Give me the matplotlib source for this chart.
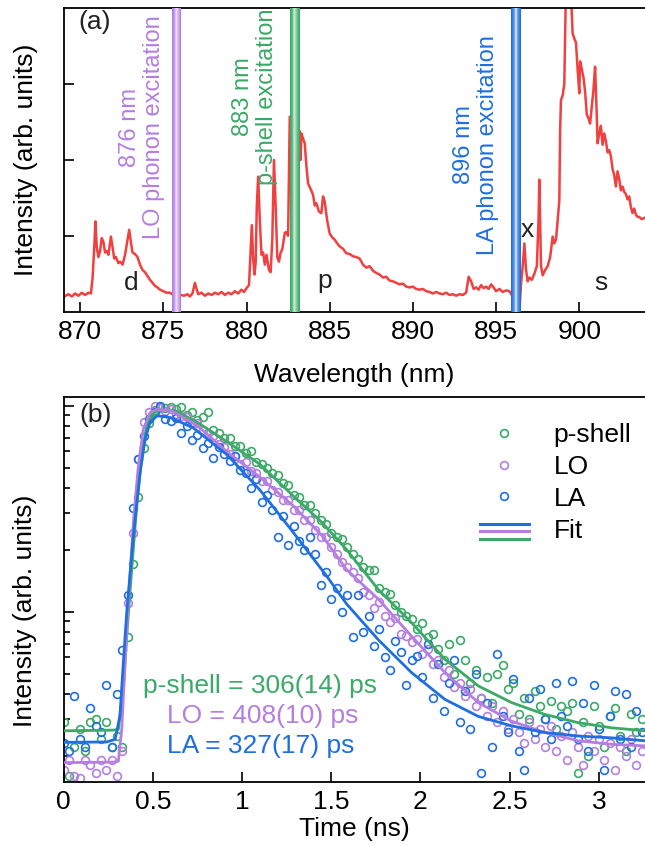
"""
Two-panel figure: PL spectrum with excitation lines (a) and
time-resolved decay traces with fits on a log scale (b)
"""

import matplotlib
matplotlib.use('Agg')
import matplotlib.pyplot as plt
import matplotlib.colors as mcolors
from matplotlib.lines import Line2D
from matplotlib.legend_handler import HandlerBase
import numpy as np

plt.rcParams['font.family'] = ['Liberation Sans', 'DejaVu Sans']

RED = '#f0403f'
GREEN = '#3aaa66'
PURPLE = '#b47fe0'
BLUE = '#1f6fe0'

# ---- panel (a): spectrum ----
wavelength_nm = [
    869.05, 869.3, 869.5, 869.7, 869.9, 870.1, 870.3, 870.5, 870.65, 870.75,
    870.85, 870.92, 871.0, 871.1, 871.2, 871.3, 871.4, 871.5, 871.6, 871.7,
    871.85, 871.95, 872.05, 872.15, 872.3, 872.4, 872.55, 872.7, 872.85, 872.95,
    873.05, 873.15, 873.3, 873.45, 873.6, 873.75, 873.9, 874.05, 874.2, 874.35,
    874.5, 874.65, 874.8, 875.0, 875.2, 875.4, 875.6, 875.8, 876.05, 876.25,
    876.45, 876.6, 876.75, 876.9, 877.0, 877.1, 877.3, 877.5, 877.7, 877.9,
    878.1, 878.3, 878.5, 878.7, 878.9, 879.1, 879.3, 879.5, 879.7, 879.85,
    880.0, 880.15, 880.25, 880.32, 880.4, 880.48, 880.55, 880.62, 880.7, 880.8,
    880.9, 881.0, 881.1, 881.2, 881.35, 881.45, 881.55, 881.65, 881.75, 881.85,
    881.95, 882.05, 882.15, 882.3, 882.4, 882.5, 882.6, 882.8, 883.0, 883.2,
    883.25, 883.3, 883.4, 883.5, 883.6, 883.7, 883.85, 884.0, 884.1, 884.2,
    884.35, 884.5, 884.6, 884.7, 884.85, 885.0, 885.15, 885.3, 885.45, 885.6,
    885.8, 886.0, 886.2, 886.4, 886.6, 886.8, 887.0, 887.2, 887.4, 887.6,
    887.8, 888.0, 888.2, 888.4, 888.6, 888.8, 889.0, 889.2, 889.4, 889.6,
    889.8, 890.0, 890.2, 890.4, 890.6, 890.8, 891.0, 891.2, 891.4, 891.6,
    891.8, 892.0, 892.2, 892.4, 892.6, 892.8, 893.0, 893.2, 893.35, 893.5,
    893.65, 893.8, 893.95, 894.1, 894.25, 894.4, 894.55, 894.7, 894.85, 895.0,
    895.2, 895.4, 895.6, 895.8, 896.0, 896.2, 896.4, 896.5, 896.6, 896.7,
    896.8, 896.9, 897.0, 897.15, 897.3, 897.45, 897.55, 897.6, 897.7, 897.8,
    897.95, 898.1, 898.25, 898.4, 898.5, 898.6, 898.7, 898.8, 898.85, 898.9,
    899.0, 899.1, 899.2, 899.35, 899.5, 899.6, 899.7, 899.8, 899.9, 900.0,
    900.05, 900.15, 900.25, 900.35, 900.45, 900.55, 900.65, 900.75, 900.85, 900.95,
    901.05, 901.1, 901.2, 901.3, 901.4, 901.5, 901.6, 901.7, 901.8, 901.9,
    902.0, 902.1, 902.2, 902.3, 902.4, 902.5, 902.6, 902.7, 902.8, 902.9,
    903.0, 903.1, 903.2, 903.3, 903.4, 903.5, 903.6, 903.75, 903.95,
]
pl_intensity = [
    0.20, 0.23, 0.20, 0.24, 0.21, 0.25, 0.22, 0.25, 0.24, 0.45,
    0.85, 1.19, 0.85, 0.72, 0.80, 0.97, 0.92, 0.78, 0.80, 0.75,
    0.99, 0.85, 0.70, 0.72, 0.64, 0.66, 0.62, 0.75, 0.95, 1.08,
    0.92, 0.78, 0.76, 0.72, 0.62, 0.55, 0.52, 0.47, 0.42, 0.38,
    0.34, 0.32, 0.29, 0.27, 0.25, 0.25, 0.22, 0.23, 0.22, 0.21,
    0.23, 0.20, 0.24, 0.38, 0.30, 0.23, 0.25, 0.21, 0.24, 0.22,
    0.25, 0.23, 0.26, 0.22, 0.25, 0.23, 0.27, 0.24, 0.29, 0.26,
    0.31, 0.35, 0.80, 1.14, 0.70, 0.49, 0.65, 1.40, 1.78, 1.20,
    0.75, 0.78, 0.62, 0.75, 0.55, 0.52, 0.95, 2.00, 1.40, 0.72,
    0.66, 0.78, 0.82, 1.04, 1.05, 1.00, 2.57, 2.45, 2.40, 2.38,
    2.00, 2.35, 2.28, 2.22, 1.92, 1.69, 1.62, 1.54, 1.40, 1.43,
    1.32, 1.30, 1.52, 1.45, 1.20, 1.03, 0.98, 0.95, 0.90, 0.86,
    0.83, 0.77, 0.76, 0.73, 0.72, 0.70, 0.62, 0.58, 0.60, 0.54,
    0.51, 0.49, 0.45, 0.46, 0.41, 0.40, 0.38, 0.36, 0.37, 0.33,
    0.32, 0.33, 0.30, 0.29, 0.30, 0.27, 0.26, 0.24, 0.26, 0.24,
    0.23, 0.25, 0.22, 0.23, 0.21, 0.23, 0.22, 0.25, 0.46, 0.40,
    0.30, 0.32, 0.29, 0.35, 0.31, 0.33, 0.30, 0.36, 0.32, 0.27,
    0.30, 0.26, 0.28, 0.27, 0.20, 0.08, 0.00, 0.37, 0.60, 0.90,
    0.55, 0.40, 0.45, 0.42, 0.50, 0.60, 1.20, 1.74, 0.60, 0.48,
    0.55, 0.60, 0.72, 0.99, 0.90, 0.95, 1.20, 1.47, 2.40, 2.79,
    2.85, 3.00, 4.30, 4.50, 4.20, 3.67, 3.60, 3.55, 3.20, 2.88,
    3.30, 3.20, 3.09, 2.90, 2.60, 2.55, 2.48, 2.70, 2.92, 3.23,
    2.60, 2.22, 2.35, 2.45, 2.20, 2.35, 2.25, 2.10, 2.13, 2.05,
    1.88, 1.80, 1.65, 1.85, 1.75, 1.60, 1.65, 1.58, 1.55, 1.48,
    1.52, 1.38, 1.30, 1.36, 1.28, 1.25, 1.25, 1.22, 1.24,
]

# excitation wavelengths (bar centres) and their labels
exc_centers = [875.8, 882.9, 896.2]
exc_colors = [PURPLE, GREEN, BLUE]
exc_labels = ['876 nm\nLO phonon excitation',
              '883 nm\np-shell excitation',
              '896 nm\nLA phonon excitation']

# ---- panel (b): decay traces, normalised ----
time_ns = [
    0.00, 0.03, 0.06, 0.09, 0.12, 0.15, 0.18, 0.21, 0.24, 0.27,
    0.30, 0.33, 0.36, 0.39, 0.42, 0.45, 0.48, 0.51, 0.54, 0.57,
    0.60, 0.63, 0.66, 0.69, 0.72, 0.75, 0.78, 0.81, 0.84, 0.87,
    0.90, 0.93, 0.96, 0.99, 1.02, 1.05, 1.08, 1.11, 1.14, 1.17,
    1.20, 1.23, 1.26, 1.29, 1.32, 1.35, 1.38, 1.41, 1.44, 1.47,
    1.50, 1.53, 1.56, 1.59, 1.62, 1.65, 1.68, 1.71, 1.74, 1.77,
    1.80, 1.83, 1.86, 1.89, 1.92, 1.95, 1.98, 2.01, 2.04, 2.07,
    2.10, 2.13, 2.16, 2.19, 2.22, 2.25, 2.28, 2.31, 2.34, 2.37,
    2.40, 2.43, 2.46, 2.49, 2.52, 2.55, 2.58, 2.61, 2.64, 2.67,
    2.70, 2.73, 2.76, 2.79, 2.82, 2.85, 2.88, 2.91, 2.94, 2.97,
    3.00, 3.03, 3.06, 3.09, 3.12, 3.15, 3.18, 3.21, 3.24,
]
pshell_counts = [
    0.029, 0.016, 0.022, 0.027, 0.021, 0.029, 0.030, 0.024, 0.029, 0.022,
    0.025, 0.022, 0.075, 0.17, 0.36, 0.62, 0.82, 0.95, 0.99, 0.97,
    0.99, 0.96, 0.99, 0.90, 0.93, 0.85, 0.88, 0.93, 0.76, 0.74,
    0.70, 0.70, 0.64, 0.64, 0.59, 0.60, 0.53, 0.52, 0.50, 0.47,
    0.46, 0.42, 0.41, 0.37, 0.36, 0.33, 0.33, 0.30, 0.28, 0.265,
    0.24, 0.23, 0.225, 0.205, 0.19, 0.18, 0.165, 0.16, 0.16, 0.13,
    0.125, 0.122, 0.108, 0.10, 0.095, 0.092, 0.082, 0.088, 0.075, 0.078,
    0.066, 0.058, 0.070, 0.050, 0.073, 0.058, 0.045, 0.052, 0.038, 0.048,
    0.036, 0.050, 0.055, 0.042, 0.045, 0.032, 0.038, 0.030, 0.041, 0.035,
    0.030, 0.037, 0.027, 0.035, 0.033, 0.036, 0.0165, 0.029, 0.020, 0.035,
    0.028, 0.022, 0.031, 0.034, 0.025, 0.021, 0.032, 0.026, 0.030,
]
lo_counts = [
    0.017, 0.019, 0.016, 0.0155, 0.019, 0.018, 0.0165, 0.019, 0.017, 0.019,
    0.016, 0.021, 0.11, 0.24, 0.55, 0.83, 0.93, 1.00, 0.97, 0.94,
    0.96, 0.91, 0.89, 0.88, 0.83, 0.82, 0.76, 0.74, 0.71, 0.65,
    0.63, 0.58, 0.57, 0.52, 0.53, 0.48, 0.47, 0.43, 0.43, 0.39,
    0.38, 0.35, 0.35, 0.31, 0.31, 0.28, 0.28, 0.25, 0.23, 0.23,
    0.205, 0.19, 0.175, 0.165, 0.155, 0.145, 0.125, 0.12, 0.104, 0.112,
    0.095, 0.089, 0.093, 0.078, 0.076, 0.071, 0.074, 0.062, 0.066, 0.056,
    0.058, 0.048, 0.052, 0.043, 0.045, 0.039, 0.042, 0.035, 0.038, 0.031,
    0.035, 0.029, 0.033, 0.027, 0.030, 0.026, 0.023, 0.029, 0.024, 0.027,
    0.022, 0.028, 0.021, 0.025, 0.019, 0.026, 0.022, 0.018, 0.025, 0.021,
    0.024, 0.019, 0.023, 0.017, 0.022, 0.020, 0.024, 0.018, 0.021,
]
la_counts = [
    0.023, 0.021, 0.039, 0.024, 0.022, 0.034, 0.028, 0.026, 0.044, 0.022,
    0.040, 0.065, 0.12, 0.32, 0.55, 0.71, 0.86, 0.93, 1.00, 0.86,
    0.84, 0.87, 0.74, 0.80, 0.68, 0.72, 0.62, 0.66, 0.56, 0.63,
    0.58, 0.54, 0.57, 0.49, 0.47, 0.40, 0.44, 0.34, 0.37, 0.31,
    0.23, 0.29, 0.21, 0.26, 0.22, 0.20, 0.23, 0.19, 0.135, 0.155,
    0.115, 0.13, 0.10, 0.12, 0.075, 0.12, 0.080, 0.095, 0.068, 0.082,
    0.060, 0.052, 0.072, 0.064, 0.044, 0.058, 0.061, 0.048, 0.070, 0.038,
    0.056, 0.033, 0.045, 0.058, 0.029, 0.041, 0.027, 0.050, 0.0165, 0.036,
    0.022, 0.062, 0.031, 0.026, 0.047, 0.021, 0.017, 0.038, 0.026, 0.042,
    0.030, 0.024, 0.045, 0.031, 0.028, 0.046, 0.024, 0.036, 0.021, 0.044,
    0.027, 0.017, 0.031, 0.041, 0.024, 0.040, 0.022, 0.033, 0.026,
]

# fit curves
fit_t_pshell = [0.0, 0.28, 0.307, 0.335, 0.354, 0.382, 0.41, 0.438, 0.466, 0.503,
                0.55, 0.62, 0.75, 0.914, 1.1, 1.288, 1.45, 1.586, 1.764, 1.95,
                2.137, 2.324, 2.51, 2.697, 2.884, 3.07, 3.26]
fit_pshell = [0.0264, 0.0266, 0.0268, 0.042, 0.0762, 0.161, 0.326, 0.570, 0.797, 0.925,
              0.955, 0.95, 0.83, 0.67, 0.52, 0.364, 0.27, 0.20, 0.128, 0.0885,
              0.0587, 0.0436, 0.0362, 0.0317, 0.0289, 0.0273, 0.0264]
fit_t_lo = [0.0, 0.28, 0.307, 0.326, 0.345, 0.363, 0.391, 0.419, 0.447, 0.484,
            0.522, 0.6, 0.75, 0.914, 1.1, 1.288, 1.45, 1.586, 1.764, 1.95,
            2.137, 2.324, 2.51, 2.697, 2.884, 3.07, 3.26]
fit_lo = [0.0185, 0.0186, 0.0188, 0.0268, 0.0565, 0.111, 0.27, 0.509, 0.768, 0.925,
          0.96, 0.95, 0.80, 0.60, 0.45, 0.326, 0.233, 0.16, 0.115, 0.076,
          0.0506, 0.0362, 0.0294, 0.0259, 0.0236, 0.0227, 0.0223]
fit_t_la = [0.0, 0.242, 0.289, 0.316, 0.335, 0.354, 0.391, 0.429, 0.457, 0.484,
            0.522, 0.541, 0.6, 0.727, 0.914, 1.1, 1.288, 1.474, 1.586, 1.764,
            1.95, 2.137, 2.324, 2.51, 2.697, 2.884, 3.07, 3.26]
fit_la = [0.0232, 0.0233, 0.024, 0.0312, 0.0565, 0.0989, 0.233, 0.473, 0.687, 0.827,
          0.891, 0.89, 0.875, 0.78, 0.58, 0.39, 0.242, 0.149, 0.109, 0.073,
          0.0506, 0.0375, 0.031, 0.0279, 0.0259, 0.0249, 0.0244, 0.0236]


class FitHandle:
    def __init__(self, colors):
        self.colors = colors


class HandlerFit(HandlerBase):
    """Legend handle: three stacked horizontal lines"""
    def create_artists(self, legend, orig_handle, xdescent, ydescent,
                       width, height, fontsize, trans):
        artists = []
        yc = height / 2 - ydescent
        step = 5.4  # points between the three lines
        for k, c in enumerate(orig_handle.colors):
            y = yc + (1 - k) * step - 2.0
            artists.append(Line2D([-xdescent, -xdescent + width], [y, y],
                                  color=c, lw=2.2, transform=trans))
        return artists


def glow_bar(ax, center, width, color):
    """Vertical excitation bar, darker edges and a light core"""
    rgb = np.array(mcolors.to_rgb(color))
    layers = [(1.0, 0.0), (0.8, 0.1), (0.6, 0.22), (0.42, 0.38),
              (0.26, 0.55), (0.12, 0.72)]
    for frac, mix in layers:
        c = rgb * (1 - mix) + mix
        ax.axvspan(center - width * frac / 2, center + width * frac / 2,
                   color=c, lw=0, zorder=3)


fig = plt.figure(figsize=(6.45, 8.46), dpi=100)
ax1 = fig.add_axes([0.0997, 0.6316, 0.9003, 0.3586])
ax2 = fig.add_axes([0.0985, 0.0757, 0.9015, 0.4554])

FS = 19

# ---- (a) ----
ax1.plot(wavelength_nm, pl_intensity, color=RED, lw=1.8, zorder=2)
for xc, col in zip(exc_centers, exc_colors):
    glow_bar(ax1, xc, 0.58, col)
ax1.text(873.7, 2.43, exc_labels[0], color=PURPLE, rotation=90, ha='center',
         va='center', multialignment='center', fontsize=17, linespacing=1.1)
ax1.text(880.5, 2.84, exc_labels[1], color=GREEN, rotation=90, ha='center',
         va='center', multialignment='center', fontsize=17, linespacing=1.1)
ax1.text(893.8, 2.2, exc_labels[2], color=BLUE, rotation=90, ha='center',
         va='center', multialignment='center', fontsize=17, linespacing=1.1)

for x, y, s in [(873.04, 0.38, 'd'), (884.68, 0.40, 'p'),
                (896.86, 1.08, 'x'), (901.3, 0.38, 's')]:
    ax1.text(x, y, s, ha='center', va='center', fontsize=FS, color='#222222')
ax1.text(0.025, 0.955, '(a)', transform=ax1.transAxes, ha='left', va='center',
         fontsize=FS, color='#222222')

ax1.set_xlim(869.05, 903.95)
ax1.set_ylim(0, 4)
ax1.set_xticks([870, 875, 880, 885, 890, 895, 900])
ax1.set_yticks([1, 2, 3])
ax1.set_yticklabels([])
ax1.set_xlabel('Wavelength (nm)', fontsize=FS, labelpad=14)
ax1.set_ylabel('Intensity (arb. units)', fontsize=FS)
ax1.yaxis.set_label_coords(-0.045, 0.5)

# ---- (b) ----
ax2.plot(time_ns, pshell_counts, 'o', ls='none', mfc='none', mec=GREEN,
         ms=5.6, mew=1.2, label='p-shell', zorder=2)
ax2.plot(time_ns, lo_counts, 'o', ls='none', mfc='none', mec=PURPLE,
         ms=5.6, mew=1.2, label='LO', zorder=2)
ax2.plot(time_ns, la_counts, 'o', ls='none', mfc='none', mec=BLUE,
         ms=5.6, mew=1.2, label='LA', zorder=2)
ax2.plot(fit_t_pshell, fit_pshell, color=GREEN, lw=2, zorder=3)
ax2.plot(fit_t_lo, fit_lo, color=PURPLE, lw=2, zorder=3)
ax2.plot(fit_t_la, fit_la, color=BLUE, lw=2, zorder=3)

ax2.set_yscale('log')
ax2.set_xlim(0, 3.258)
ax2.set_ylim(0.0149, 1.106)
ax2.set_xticks([0, 0.5, 1, 1.5, 2, 2.5, 3])
ax2.set_xticklabels(['0', '0.5', '1', '1.5', '2', '2.5', '3'])
ax2.yaxis.set_major_formatter(plt.NullFormatter())
ax2.yaxis.set_minor_formatter(plt.NullFormatter())
ax2.set_xlabel('Time (ns)', fontsize=FS, labelpad=2)
ax2.set_ylabel('Intensity (arb. units)', fontsize=FS)
ax2.yaxis.set_label_coords(-0.045, 0.445)

ax2.text(0.445, 0.249, 'p-shell = 306(14) ps', color=GREEN, fontsize=FS,
         ha='left', va='center', transform=ax2.get_xaxis_transform())
ax2.text(0.58, 0.171, 'LO = 408(10) ps', color=PURPLE, fontsize=FS,
         ha='left', va='center', transform=ax2.get_xaxis_transform())
ax2.text(0.58, 0.093, 'LA = 327(17) ps', color=BLUE, fontsize=FS,
         ha='left', va='center', transform=ax2.get_xaxis_transform())
ax2.text(0.027, 0.952, '(b)', transform=ax2.transAxes, ha='left', va='center',
         fontsize=FS, color='#222222')

handles, labels = ax2.get_legend_handles_labels()
handles.append(FitHandle([BLUE, PURPLE, GREEN]))
labels.append('Fit')
ax2.legend(handles, labels, handler_map={FitHandle: HandlerFit()},
           loc='upper left', bbox_to_anchor=(0.716, 0.932), frameon=False,
           fontsize=FS, numpoints=1, handlelength=1.85, handletextpad=0.95,
           labelspacing=0.3, borderpad=0, borderaxespad=0)

for ax in (ax1, ax2):
    ax.spines['right'].set_visible(False)
    for sp in ('left', 'top', 'bottom'):
        ax.spines[sp].set_linewidth(1.3)
    ax.tick_params(which='both', direction='in', top=False, right=False,
                   labelsize=FS, width=1.2)
    ax.tick_params(which='major', length=7, pad=6)
    ax.tick_params(which='minor', length=4.5)

plt.savefig('out.png', dpi=100)
plt.close(fig)
